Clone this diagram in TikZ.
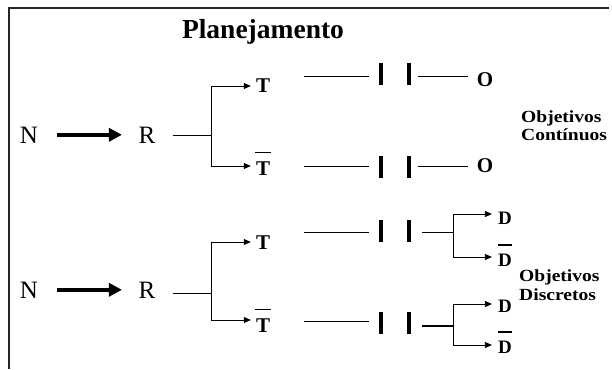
\documentclass[tikz,border=0pt]{standalone}
\usepackage{fontspec}
\setmainfont{Liberation Serif}
\newfontfamily\wideserif[FakeStretch=1.15]{Liberation Serif}
\usetikzlibrary{arrows.meta}
\newcommand\barred[3]{\setbox0\hbox{#1}\makebox[\wd0]{\smash{\raisebox{\dimexpr\ht0+#3\relax}{\makebox[0pt]{\rule{#2}{1.2pt}}}}}\llap{\box0}}
\begin{document}
\begin{tikzpicture}[x=1pt,y=-1pt,
  title/.style={inner sep=0pt,anchor=base,font=\fontsize{27.5}{30}\selectfont\bfseries},
  big/.style={inner sep=0pt,anchor=base,font=\fontsize{25}{28}\selectfont},
  lbl/.style={inner sep=0pt,anchor=base,font=\fontsize{21}{24}\selectfont\bfseries},
  dlbl/.style={inner sep=0pt,anchor=base,font=\fontsize{19}{22}\selectfont\bfseries},
  obj/.style={inner sep=0pt,anchor=base west,font=\wideserif\fontsize{17}{19}\selectfont\bfseries},
  thin/.style={line width=0.8pt,black},
  tip/.style={thin,-{Triangle[length=7pt,width=6pt]}},
  bigarrow/.style={line width=4pt,-{Triangle[length=13pt,width=13pt]}},
  gate/.style={fill=black,draw=none,inner sep=0pt,minimum width=4.2pt,minimum height=22pt},
  frame/.style={line width=1.6pt,black!85}]

\useasboundingbox (0,0) rectangle (612,369);
\coordinate (fTL) at (9,8);
\coordinate (fTR) at (609,8);
\coordinate (fBL) at (9,369);
\draw[frame] (fTR) -- (fTL) -- (fBL);

\node[title] (ttl) at (263,38) {Planejamento};

% ---------- upper block ----------
\node[big] (n1) at (29,143) {N};
\node[big] (r1) at (147,143) {R};
\draw[bigarrow,shorten <=19pt,shorten >=16.5pt] (n1.east) -- (r1.west);
\coordinate (j1) at (211,135);
\draw[thin,shorten <=17pt] (r1.east |- j1) -- (j1);

\node[lbl] (t1) at (263,92) {T};
\node[lbl] (tb1) at (263,175) {\barred{T}{16pt}{8.5pt}};
\coordinate (v1a) at (211,86);
\coordinate (v1b) at (211,166);
\draw[thin] (v1a) -- (v1b);
\draw[tip,shorten >=5pt] (v1a) -- (v1a -| t1.west);
\draw[tip,shorten >=5pt] (v1b) -- (v1b -| tb1.west);

\node[gate] (g1a) at (381,74) {};
\node[gate] (g1b) at (409,74) {};
\node[lbl] (o1) at (485,86) {O};
\coordinate (s1) at (304,76);
\draw[thin,shorten >=10pt] (s1) -- (s1 -| g1a.west);
\draw[thin,shorten <=7pt,shorten >=9pt] (s1 -| g1b.east) -- (s1 -| o1.west);

\node[gate] (g2a) at (381,167) {};
\node[gate] (g2b) at (409,167) {};
\node[lbl] (o2) at (485,172) {O};
\coordinate (s2) at (304,166);
\draw[thin,shorten >=10pt] (s2) -- (s2 -| g2a.west);
\draw[thin,shorten <=7pt,shorten >=9pt] (s2 -| g2b.east) -- (s2 -| o2.west);

\node[obj] (oc1) at (521,122) {Objetivos};
\node[obj] (oc2) at (521,140) {Contínuos};

% ---------- lower block ----------
\node[big] (n2) at (29,298) {N};
\node[big] (r2) at (147,298) {R};
\draw[bigarrow,shorten <=19pt,shorten >=16.5pt] (n2.east) -- (r2.west);
\coordinate (j2) at (211,293);
\draw[thin,shorten <=17pt] (r2.east |- j2) -- (j2);

\node[lbl] (t3) at (263,249) {T};
\node[lbl] (tb3) at (263,332) {\barred{T}{16pt}{8.5pt}};
\coordinate (v2a) at (211,242);
\coordinate (v2b) at (211,320);
\draw[thin] (v2a) -- (v2b);
\draw[tip,shorten >=5pt] (v2a) -- (v2a -| t3.west);
\draw[tip,shorten >=5pt] (v2b) -- (v2b -| tb3.west);

\node[gate] (g3a) at (381,231) {};
\node[gate] (g3b) at (409,231) {};
\coordinate (s3) at (304,232);
\draw[thin,shorten >=10pt] (s3) -- (s3 -| g3a.west);
\coordinate (k1) at (453,232);
\draw[thin,shorten <=11pt] (s3 -| g3b.east) -- (k1);
\node[dlbl] (d1) at (505,224) {D};
\node[dlbl] (db1) at (505,266) {\barred{D}{14pt}{8pt}};
\coordinate (k1a) at (453,214);
\coordinate (k1b) at (453,257);
\draw[thin] (k1a) -- (k1b);
\draw[tip,shorten >=6pt] (k1a) -- (k1a -| d1.west);
\draw[tip,shorten >=6pt] (k1b) -- (k1b -| db1.west);

\node[gate] (g4a) at (381,322.5) {};
\node[gate] (g4b) at (409,322.5) {};
\coordinate (s4) at (304,321);
\draw[thin,shorten >=10pt] (s4) -- (s4 -| g4a.west);
\coordinate (k2) at (453,326);
\draw[thin,line width=1.1pt,shorten <=11pt] (k2 -| g4b.east) -- (k2);
\node[dlbl] (d2) at (505,312) {D};
\node[dlbl] (db2) at (505,353) {\barred{D}{14pt}{8pt}};
\coordinate (k2a) at (453,304);
\coordinate (k2b) at (453,345);
\draw[thin] (k2a) -- (k2b);
\draw[tip,shorten >=6pt] (k2a) -- (k2a -| d2.west);
\draw[tip,shorten >=6pt] (k2b) -- (k2b -| db2.west);

\node[obj] (od1) at (519,281) {Objetivos};
\node[obj] (od2) at (519,300) {Discretos};
\end{tikzpicture}
\end{document}
